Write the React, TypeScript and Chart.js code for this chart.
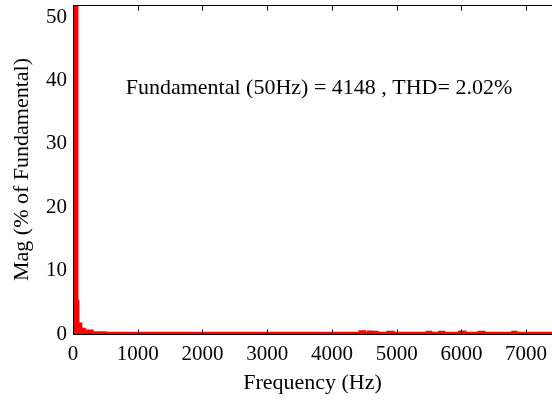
import React, { useEffect, useRef } from "react";
import { Chart, registerables } from "chart.js";

Chart.register(...registerables);

// Spectrum (stepped, left bin edge in Hz) and magnitude in % of fundamental
const freqHz = [0, 10, 65, 80, 125, 180, 300, 500, 4430, 4510, 4560, 4620, 4660, 4700, 4860, 4950, 5470, 5530, 5660, 5730, 5970, 6060, 6270, 6350, 6790, 6850, 7400];
const magPct = [0.8, 100, 5.2, 1.6, 0.8, 0.5, 0.25, 0.15, 0.4, 0.15, 0.35, 0.15, 0.3, 0.15, 0.3, 0.15, 0.3, 0.15, 0.3, 0.15, 0.35, 0.15, 0.3, 0.15, 0.3, 0.15, 0.15];

const xTicks = [0, 1000, 2000, 3000, 4000, 5000, 6000, 7000];
const yTicks = [0, 10, 20, 30, 40, 50];
const xRange = [0, 7400];
const yRange = [0, 51.9];

const annotationText = "Fundamental (50Hz) = 4148 , THD= 2.02%";
const annotationAt = { x: 3800, y: 38.8 };

const FONT = "'Liberation Serif', 'Times New Roman', serif";

const boxPlugin = {
  id: "matlabBox",
  afterDatasetsDraw(chart: any) {
    const { ctx, chartArea, scales } = chart;
    ctx.save();
    ctx.strokeStyle = "#000";
    ctx.lineWidth = 1;
    const l = Math.round(chartArea.left) + 0.5;
    const t = Math.round(chartArea.top) + 0.5;
    const b = Math.round(chartArea.bottom) + 0.5;
    ctx.beginPath();
    ctx.moveTo(l, b);
    ctx.lineTo(l, t);
    ctx.lineTo(chartArea.right + 2, t);
    ctx.moveTo(l, b);
    ctx.lineTo(chartArea.right + 2, b);
    ctx.stroke();
    xTicks.forEach((v) => {
      const x = Math.round(scales.x.getPixelForValue(v)) + 0.5;
      ctx.beginPath();
      ctx.moveTo(x, t);
      ctx.lineTo(x, t + 5);
      ctx.moveTo(x, b);
      ctx.lineTo(x, b - 5);
      ctx.stroke();
    });
    // annotation text
    ctx.fillStyle = "#000";
    ctx.font = `22px ${FONT}`;
    ctx.textAlign = "center";
    ctx.textBaseline = "middle";
    ctx.fillText(
      annotationText,
      scales.x.getPixelForValue(annotationAt.x),
      scales.y.getPixelForValue(annotationAt.y)
    );
    ctx.restore();
  },
};

export default function App() {
  const ref = useRef<HTMLCanvasElement | null>(null);
  useEffect(() => {
    if (!ref.current) return;
    const chart = new Chart(ref.current, {
      type: "line",
      data: {
        datasets: [
          {
            data: freqHz.map((f, i) => ({ x: f, y: magPct[i] })),
            borderColor: "#ff0000",
            backgroundColor: "#ff0000",
            borderWidth: 2.5,
            stepped: "before",
            fill: "origin",
            pointRadius: 0,
            tension: 0,
          },
        ],
      },
      options: {
        responsive: false,
        animation: false,
        layout: { padding: { left: 0, right: 0, top: 5, bottom: 0 } },
        plugins: { legend: { display: false }, tooltip: { enabled: false } },
        scales: {
          x: {
            type: "linear",
            min: xRange[0],
            max: xRange[1],
            afterFit: (s: any) => {
              s.height = 67;
              s.paddingLeft = 0;
              s.paddingRight = 0;
            },
            afterBuildTicks: (s: any) => {
              s.ticks = xTicks.map((v) => ({ value: v }));
            },
            grid: { display: false, drawTicks: false },
            border: { display: false },
            ticks: {
              padding: 8,
              color: "#000",
              font: { family: FONT, size: 21 },
              maxRotation: 0,
              autoSkip: false,
              callback: (v: any) => String(v),
            },
            title: {
              display: true,
              text: "Frequency (Hz)",
              color: "#000",
              font: { family: FONT, size: 22 },
              padding: { top: 0, bottom: 5 },
            },
          },
          y: {
            type: "linear",
            min: yRange[0],
            max: yRange[1],
            afterFit: (s: any) => {
              s.width = 73;
              s.paddingTop = 0;
              s.paddingBottom = 0;
            },
            afterBuildTicks: (s: any) => {
              s.ticks = yTicks.map((v) => ({ value: v }));
            },
            grid: { display: false, drawTicks: false },
            border: { display: false },
            ticks: {
              padding: 6,
              color: "#000",
              font: { family: FONT, size: 21 },
              callback: (v: any) => String(v),
            },
            title: {
              display: true,
              text: "Mag (% of Fundamental)",
              color: "#000",
              font: { family: FONT, size: 22 },
              padding: { top: 9, bottom: 0 },
            },
          },
        },
      },
      plugins: [boxPlugin],
    });
    return () => chart.destroy();
  }, []);
  return (
    <div style={{ position: "absolute", left: 0, top: 0, width: 552, height: 401, background: "#fff" }}>
      <canvas ref={ref} width={552} height={401} style={{ display: "block" }} />
    </div>
  );
}
